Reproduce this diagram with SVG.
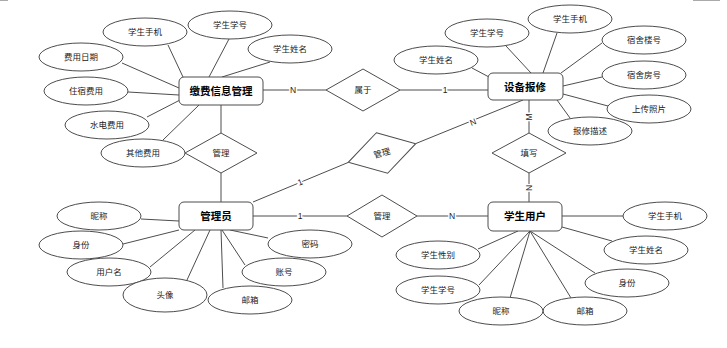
<svg xmlns="http://www.w3.org/2000/svg" width="727" height="348" viewBox="0 0 727 348">
<style>
.attr ellipse{fill:#fff;stroke:#4d4d4d;stroke-width:1}
.attr text,.rel text{font-family:"Liberation Sans","Noto Sans CJK SC",sans-serif;font-size:8.5px;fill:#222;text-anchor:middle;dominant-baseline:central}
.ent rect{fill:#fff;stroke:#4d4d4d;stroke-width:1}
.ent text{font-family:"Liberation Sans","Noto Sans CJK SC",sans-serif;font-size:10.5px;font-weight:bold;fill:#000;text-anchor:middle;dominant-baseline:central}
.rel polygon{fill:#fff;stroke:#4d4d4d;stroke-width:1}
#edges line{stroke:#4d4d4d;stroke-width:1}
#edges text{font-family:"Liberation Sans",sans-serif;font-size:8.5px;fill:#222;text-anchor:middle;dominant-baseline:central;paint-order:stroke;stroke:#fff;stroke-width:3}
</style>
<rect width="727" height="348" fill="#fff"/>
<line x1="0" y1="0.5" x2="8" y2="0.5" stroke="#aaa"/>
<line x1="693" y1="0.5" x2="720" y2="0.5" stroke="#aaa"/>
<g id="edges">
<line x1="168" y1="45" x2="183" y2="77"/>
<line x1="229" y1="39" x2="209" y2="77"/>
<line x1="270" y1="62" x2="222" y2="77"/>
<line x1="122" y1="63" x2="179" y2="88"/>
<line x1="128" y1="92" x2="179" y2="95"/>
<line x1="147" y1="117" x2="180" y2="100"/>
<line x1="163" y1="140" x2="199" y2="105"/>
<line x1="141" y1="219" x2="179" y2="221"/>
<line x1="123" y1="244" x2="179" y2="230"/>
<line x1="150" y1="267" x2="195" y2="230"/>
<line x1="187" y1="280" x2="210" y2="230"/>
<line x1="223" y1="288" x2="221" y2="230"/>
<line x1="245" y1="265" x2="222" y2="230"/>
<line x1="268" y1="238" x2="230" y2="230"/>
<line x1="562" y1="216" x2="623" y2="216"/>
<line x1="562" y1="227" x2="612" y2="241"/>
<line x1="530" y1="231" x2="595" y2="273"/>
<line x1="530" y1="231" x2="571" y2="298"/>
<line x1="530" y1="231" x2="510" y2="298"/>
<line x1="530" y1="231" x2="479" y2="285"/>
<line x1="518" y1="231" x2="478" y2="249"/>
<line x1="472" y1="68" x2="489" y2="77"/>
<line x1="506" y1="46" x2="531" y2="73"/>
<line x1="557" y1="33" x2="543" y2="73"/>
<line x1="602" y1="43" x2="561" y2="73"/>
<line x1="602" y1="77" x2="563" y2="86"/>
<line x1="608" y1="106" x2="563" y2="94"/>
<line x1="570" y1="118" x2="557" y2="100"/>
<line x1="221" y1="105" x2="221" y2="133"/>
<line x1="221" y1="173" x2="221" y2="202"/>
<line x1="263" y1="90" x2="326" y2="90"/>
<line x1="400" y1="90" x2="488" y2="90"/>
<line x1="253" y1="216" x2="347" y2="216"/>
<line x1="417" y1="216" x2="488" y2="216"/>
<line x1="529" y1="100" x2="529" y2="133"/>
<line x1="529" y1="173" x2="529" y2="202"/>
<line x1="253" y1="202" x2="348.3" y2="162.4"/>
<line x1="415.7" y1="143.6" x2="523" y2="100"/>
<text x="293" y="90">N</text>
<text x="445" y="90">1</text>
<text x="300" y="216">1</text>
<text x="452" y="216">N</text>
<text x="529" y="117" transform="rotate(-90 529 117)">M</text>
<text x="529" y="188" transform="rotate(-90 529 188)">N</text>
<text x="300" y="182" transform="rotate(-22 300 182)">1</text>
<text x="473" y="122" transform="rotate(-22 473 122)">N</text>
</g>
<g id="fee-attrs" class="attr">
<g id="f1"><ellipse cx="145" cy="32" rx="42" ry="14"/><text x="145" y="32">学生手机</text></g>
<g id="f2"><ellipse cx="230" cy="25" rx="42" ry="14"/><text x="230" y="25">学生学号</text></g>
<g id="f3"><ellipse cx="290" cy="49" rx="42" ry="14"/><text x="290" y="49">学生姓名</text></g>
<g id="f4"><ellipse cx="81" cy="57" rx="42" ry="14"/><text x="81" y="57">费用日期</text></g>
<g id="f5"><ellipse cx="86" cy="91" rx="42" ry="14"/><text x="86" y="91">住宿费用</text></g>
<g id="f6"><ellipse cx="107" cy="125" rx="42" ry="14"/><text x="107" y="125">水电费用</text></g>
<g id="f7"><ellipse cx="143" cy="153" rx="42" ry="14"/><text x="143" y="153">其他费用</text></g>
</g>
<g id="admin-attrs" class="attr">
<g id="a1"><ellipse cx="99" cy="216" rx="42" ry="14"/><text x="99" y="216">昵称</text></g>
<g id="a2"><ellipse cx="81" cy="245" rx="42" ry="14"/><text x="81" y="245">身份</text></g>
<g id="a3"><ellipse cx="109" cy="272" rx="42" ry="14"/><text x="109" y="272">用户名</text></g>
<g id="a4"><ellipse cx="165" cy="295" rx="42" ry="17"/><text x="165" y="295">头像</text></g>
<g id="a5"><ellipse cx="250" cy="300" rx="42" ry="14"/><text x="250" y="300">邮箱</text></g>
<g id="a6"><ellipse cx="284" cy="272" rx="42" ry="14"/><text x="284" y="272">账号</text></g>
<g id="a7"><ellipse cx="310" cy="244" rx="42" ry="14"/><text x="310" y="244">密码</text></g>
</g>
<g id="student-attrs" class="attr">
<g id="s1"><ellipse cx="665" cy="216" rx="42" ry="14"/><text x="665" y="216">学生手机</text></g>
<g id="s2"><ellipse cx="646" cy="250" rx="42" ry="14"/><text x="646" y="250">学生姓名</text></g>
<g id="s3"><ellipse cx="627" cy="283" rx="42" ry="14"/><text x="627" y="283">身份</text></g>
<g id="s4"><ellipse cx="585" cy="311" rx="42" ry="14"/><text x="585" y="311">邮箱</text></g>
<g id="s5"><ellipse cx="501" cy="311" rx="42" ry="14"/><text x="501" y="311">昵称</text></g>
<g id="s6"><ellipse cx="438" cy="290" rx="42" ry="14"/><text x="438" y="290">学生学号</text></g>
<g id="s7"><ellipse cx="438" cy="255" rx="42" ry="14"/><text x="438" y="255">学生性别</text></g>
</g>
<g id="repair-attrs" class="attr">
<g id="r1"><ellipse cx="436" cy="60" rx="42" ry="14"/><text x="436" y="60">学生姓名</text></g>
<g id="r2"><ellipse cx="487" cy="33" rx="42" ry="14"/><text x="487" y="33">学生学号</text></g>
<g id="r3"><ellipse cx="570" cy="19" rx="42" ry="14"/><text x="570" y="19">学生手机</text></g>
<g id="r4"><ellipse cx="644" cy="40" rx="42" ry="14"/><text x="644" y="40">宿舍楼号</text></g>
<g id="r5"><ellipse cx="644" cy="75" rx="42" ry="14"/><text x="644" y="75">宿舍房号</text></g>
<g id="r6"><ellipse cx="649" cy="109" rx="42" ry="14"/><text x="649" y="109">上传照片</text></g>
<g id="r7"><ellipse cx="590" cy="131" rx="42" ry="14"/><text x="590" y="131">报修描述</text></g>
</g>
<g class="ent">
<g id="fee"><rect x="179" y="77" width="84" height="28" rx="5"/><text x="221" y="91">缴费信息管理</text></g>
<g id="admin"><rect x="179" y="202" width="74" height="28" rx="5"/><text x="216" y="216">管理员</text></g>
<g id="student"><rect x="488" y="202" width="74" height="29" rx="5"/><text x="525" y="216">学生用户</text></g>
<g id="repair"><rect x="488" y="73" width="75" height="27" rx="5"/><text x="525" y="86.5">设备报修</text></g>
</g>
<g class="rel">
<g id="rel-manage1"><polygon points="221,133 257,153 221,173 185,153"/><text x="221" y="153">管理</text></g>
<g id="rel-belong"><polygon points="363,69 400,90 363,111 326,90"/><text x="363" y="90">属于</text></g>
<g id="rel-manage2"><polygon points="382,195 417,216 382,237 347,216"/><text x="382" y="216">管理</text></g>
<g id="rel-fill"><polygon points="529,133 566,153 529,173 492,153"/><text x="529" y="153">填写</text></g>
<g id="rel-manage3" transform="rotate(-15.5 382 153)"><polygon points="382,132 417,153 382,174 347,153"/><text x="382" y="153">管理</text></g>
</g>
</svg>
